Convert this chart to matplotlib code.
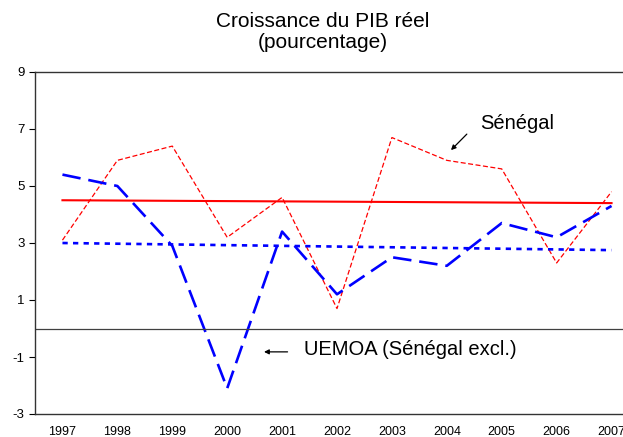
import matplotlib.pyplot as plt
import numpy as np

plt.rcParams['font.family'] = ['Liberation Sans', 'DejaVu Sans']
plt.rcParams['axes.unicode_minus'] = False

years = ['1997', '1998', '1999', '2000', '2001', '2002', '2003', '2004', '2005', '2006', '2007']
senegal = [3.1, 5.9, 6.4, 3.2, 4.6, 0.7, 6.7, 5.9, 5.6, 2.3, 4.8]
uemoa = [5.4, 5.0, 2.9, -2.1, 3.4, 1.2, 2.5, 2.2, 3.7, 3.2, 4.3]
# trend lines (start, end)
senegal_trend = [4.5, 4.4]
uemoa_trend = [3.0, 2.75]

x = np.arange(len(years))

fig = plt.figure(figsize=(6.23, 4.37), dpi=100)
ax = fig.add_axes([35 / 623, 23 / 437, 604 / 623, 342 / 437])

ax.plot(x, senegal, color='red', lw=0.9, dashes=(4, 2))
ax.plot(x, uemoa, color='blue', lw=1.9, dashes=(7, 3))
ax.plot(x, np.linspace(senegal_trend[0], senegal_trend[1], len(x)), color='red', lw=1.5)
ax.plot(x, np.linspace(uemoa_trend[0], uemoa_trend[1], len(x)), color='blue', lw=1.9, dashes=(2, 2))
ax.axhline(0, color='#404040', lw=0.9)

ax.set_xlim(-0.5, 10.5)
ax.set_ylim(-3, 9)
ax.set_yticks(np.arange(-3, 10, 2))
ax.set_xticks(x)
ax.set_xticklabels(years)
ax.tick_params(axis='x', length=0, pad=8.5, labelsize=9)
ax.tick_params(axis='y', direction='out', length=4, labelsize=9.5)
for s in ax.spines.values():
    s.set_color('#333333')
    s.set_linewidth(1.0)

fig.text(0.518, 0.972, 'Croissance du PIB réel\n(pourcentage)', ha='center', va='top',
         fontsize=15, linespacing=1.1)

ax.annotate('', xy=(7.04, 6.19), xytext=(7.4, 6.89),
            arrowprops=dict(arrowstyle='-|>', color='black', lw=0.9, mutation_scale=7))
ax.text(7.6, 7.21, 'Sénégal', fontsize=14.5, va='center')

ax.annotate('', xy=(3.62, -0.82), xytext=(4.15, -0.82),
            arrowprops=dict(arrowstyle='-|>', color='black', lw=0.9, mutation_scale=7))
ax.text(4.4, -0.75, 'UEMOA (Sénégal excl.)', fontsize=14.5, va='center')

fig.savefig('out.png', dpi=100)
